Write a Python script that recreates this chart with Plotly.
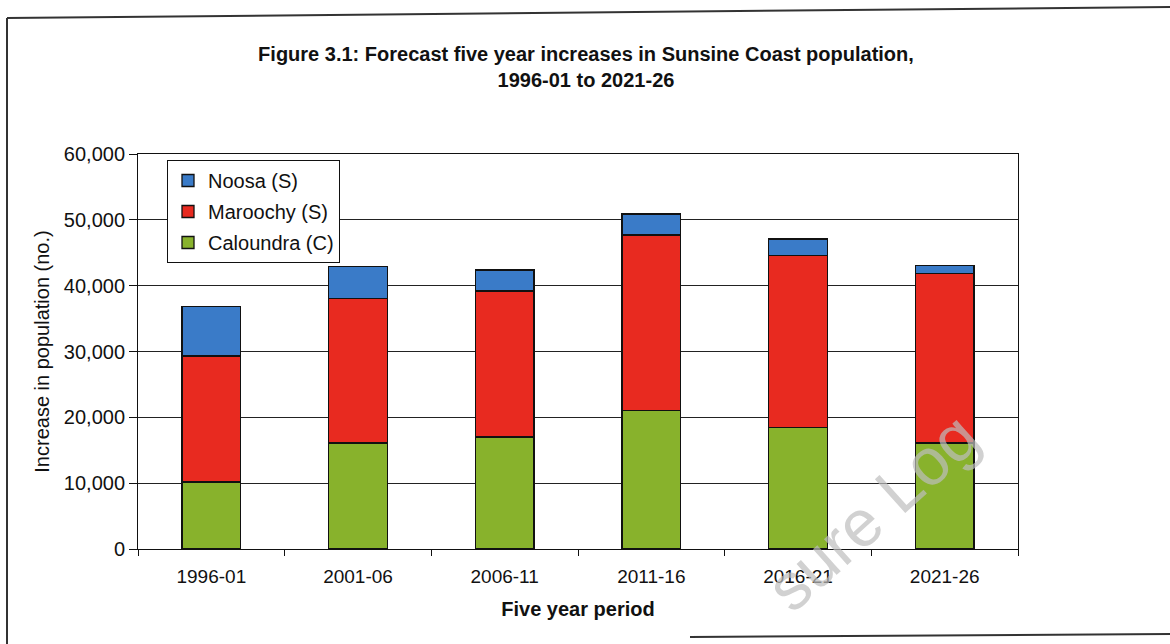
import plotly.graph_objects as go

# Five-year periods and forecast population increases by council area
periods = ["1996-01", "2001-06", "2006-11", "2011-16", "2016-21", "2021-26"]
caloundra = [10200, 16100, 17000, 21000, 18500, 16100]
maroochy = [19100, 22000, 22200, 26700, 26100, 25700]
noosa = [7500, 4800, 3200, 3200, 2500, 1300]

y_ticks = [0, 10000, 20000, 30000, 40000, 50000, 60000]

W, H = 1170, 644
ML, MR, MT, MB = 138, 152, 154, 95
PW, PH = W - ML - MR, H - MT - MB

FONT = "Liberation Sans, Arial, sans-serif"


def px_x(x):
    return (x - ML) / PW


def px_y(y):
    return (H - MB - y) / PH


fig = go.Figure()
series = [
    ("Caloundra (C)", caloundra, "#88b22c", 3),
    ("Maroochy (S)", maroochy, "#e82a20", 2),
    ("Noosa (S)", noosa, "#3a7bc8", 1),
]
for name, vals, col, rank in series:
    fig.add_trace(go.Bar(
        x=periods, y=vals, name=name, legendgroup=name, legendrank=rank,
        marker=dict(color=col, line=dict(color="#111111", width=1.3)),
    ))

# Page frame around the figure
frame = dict(type="line", xref="paper", yref="paper",
             line=dict(color="#333333", width=2))
shapes = [
    dict(frame, x0=px_x(7), y0=px_y(18), x1=px_x(1170), y1=px_y(7)),
    dict(frame, x0=px_x(7), y0=px_y(18), x1=px_x(7), y1=px_y(644)),
    dict(frame, x0=px_x(690), y0=px_y(637), x1=px_x(1170), y1=px_y(634)),
]

fig.update_layout(
    width=W, height=H,
    margin=dict(l=ML, r=MR, t=MT, b=MB),
    paper_bgcolor="white", plot_bgcolor="white",
    barmode="stack", bargap=0.6,
    font=dict(family=FONT, color="#111111"),
    title=dict(
        text="<b>Figure 3.1: Forecast five year increases in Sunsine Coast population,<br>1996-01 to 2021-26</b>",
        x=586 / W, xanchor="center", y=1 - 61 / H, yanchor="middle",
        font=dict(size=20, family=FONT, color="#111111"),
    ),
    xaxis=dict(
        type="category",
        showline=True, linecolor="#111111", linewidth=1, mirror=True,
        ticks="outside", ticklen=6, tickcolor="#111111", tickson="boundaries",
        tickfont=dict(size=19), ticklabelstandoff=10, showgrid=False,
        title=dict(text="<b>Five year period</b>", font=dict(size=20), standoff=16),
    ),
    yaxis=dict(
        range=[0, 60000], tickvals=y_ticks, tickformat=",d",
        showline=True, linecolor="#111111", linewidth=1, mirror=True,
        ticks="outside", ticklen=8, tickcolor="#111111",
        tickfont=dict(size=20),
        showgrid=True, gridcolor="#222222", gridwidth=1, zeroline=False,
        title=dict(text="Increase in population (no.)", font=dict(size=20), standoff=8),
    ),
    legend=dict(
        x=px_x(167), y=px_y(160), xanchor="left", yanchor="top",
        traceorder="grouped", tracegroupgap=2,
        bordercolor="#111111", borderwidth=1, bgcolor="white",
        font=dict(size=20),
    ),
    shapes=shapes,
    annotations=[dict(
        text="sure Log", xref="paper", yref="paper",
        x=px_x(872), y=px_y(512), xanchor="center", yanchor="middle",
        showarrow=False, textangle=-42,
        font=dict(size=66, family=FONT, color="rgba(190,190,190,0.7)"),
    )],
)

fig.write_html("out.html")
